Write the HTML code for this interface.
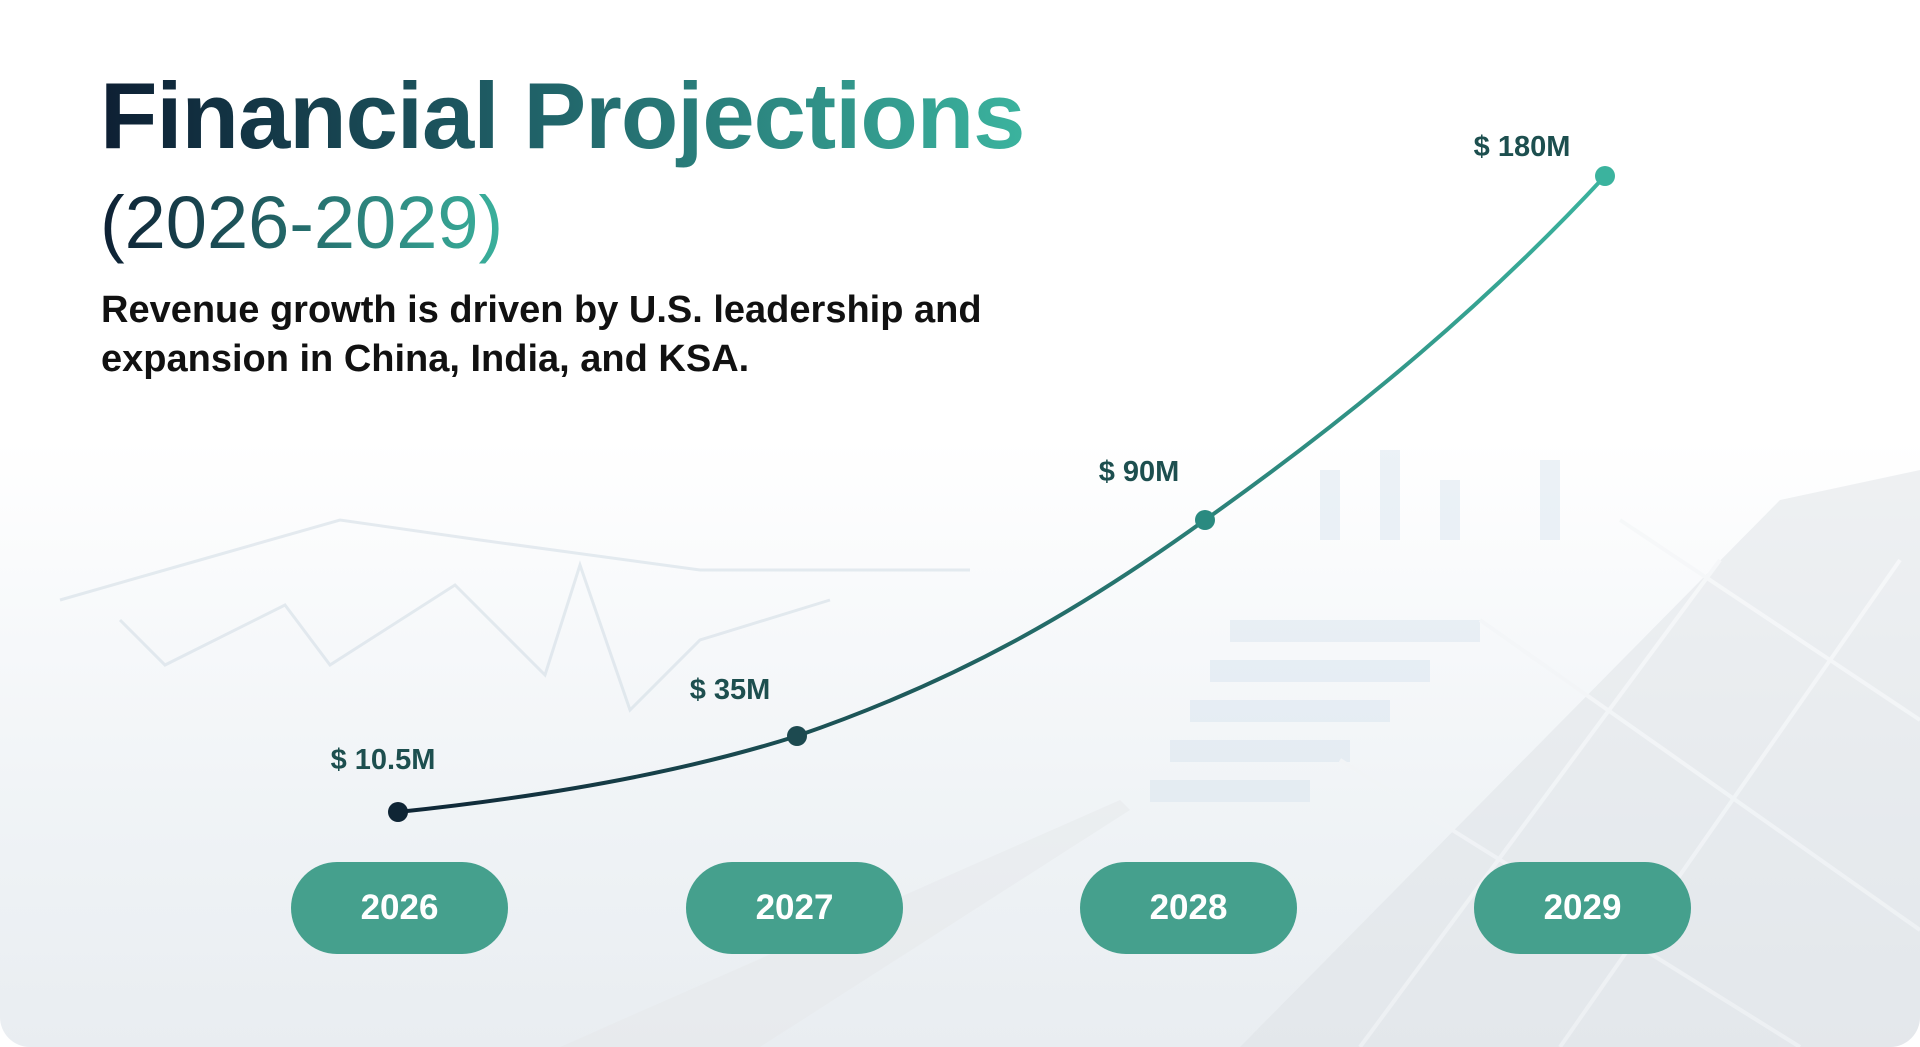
<!DOCTYPE html>
<html><head><meta charset="utf-8">
<style>
html,body{margin:0;padding:0}
body{width:1920px;height:1047px;overflow:hidden;background:#fff;font-family:"Liberation Sans",sans-serif;position:relative}
.bg{position:absolute;left:0;top:0;width:1920px;height:1047px;border-radius:0 0 30px 30px;overflow:hidden;
background:linear-gradient(180deg,#ffffff 0%,#ffffff 42%,#f6f8fa 62%,#eef2f5 82%,#e9edf1 100%)}
.t1{position:absolute;left:100px;top:62px;font-size:94px;font-weight:bold;letter-spacing:-1px;
background:linear-gradient(90deg,#0d1f33 0%,#1f5f66 45%,#3bb39e 100%);-webkit-background-clip:text;background-clip:text;color:transparent;white-space:nowrap}
.t2{position:absolute;left:100px;top:180px;font-size:74px;
background:linear-gradient(90deg,#0d1f33 0%,#2a7d78 60%,#3bb39e 100%);-webkit-background-clip:text;background-clip:text;color:transparent;width:410px;white-space:nowrap}
.sub{position:absolute;left:101px;top:286px;font-size:38px;line-height:49px;color:#111;font-weight:bold}
.lbl{position:absolute;font-size:29px;font-weight:bold;color:#1d4f4f;transform:translateX(-50%);white-space:nowrap}
.pill{position:absolute;top:862px;width:217px;height:92px;border-radius:46px;background:#45a08d;color:#fff;font-size:35px;font-weight:bold;display:flex;align-items:center;justify-content:center}
</style></head><body>
<div class="bg">
<svg width="1920" height="1047" style="position:absolute;left:0;top:0;opacity:.45">
<g stroke="#c9d6e0" stroke-width="3" fill="none">
<polyline points="120,620 165,665 285,605 330,665 455,585 545,675 580,565 630,710 700,640 830,600"/>
<polyline points="60,600 200,560 340,520 480,540 700,570 970,570"/>
</g>
<g fill="#d6e3ee"><rect x="1230" y="620" width="250" height="22"/><rect x="1210" y="660" width="220" height="22"/><rect x="1190" y="700" width="200" height="22"/><rect x="1170" y="740" width="180" height="22"/><rect x="1150" y="780" width="160" height="22"/>
<rect x="1320" y="470" width="20" height="70"/><rect x="1380" y="450" width="20" height="90"/><rect x="1440" y="480" width="20" height="60"/><rect x="1540" y="460" width="20" height="80"/></g>
<polygon points="1240,1047 1780,500 1920,470 1920,1047" fill="#dde1e5"/>
<g stroke="#f2f4f6" stroke-width="4"><line x1="1480" y1="620" x2="1920" y2="930"/><line x1="1340" y1="760" x2="1800" y2="1047"/><line x1="1620" y1="520" x2="1920" y2="720"/><line x1="1560" y1="1047" x2="1900" y2="560"/><line x1="1360" y1="1047" x2="1720" y2="560"/></g>
<polygon points="560,1047 1120,800 1130,810 760,1047" fill="#e6e8ea"/>
</svg>
<div class="t1">Financial Projections</div>
<div class="t2">(2026-2029)</div>
<div class="sub">Revenue growth is driven by U.S. leadership and<br>expansion in China, India, and KSA.</div>
<svg width="1920" height="1047" style="position:absolute;left:0;top:0">
<defs><linearGradient id="g" x1="398" y1="0" x2="1605" y2="0" gradientUnits="userSpaceOnUse">
<stop offset="0" stop-color="#0f2535"/><stop offset="0.45" stop-color="#1f5e5e"/><stop offset="1" stop-color="#3bb39e"/></linearGradient></defs>
<path d="M398,812 C560,795 690,770 797,736 C960,680 1080,610 1205,520 C1360,410 1490,300 1605,176" stroke="url(#g)" stroke-width="4" fill="none"/>
<circle cx="398" cy="812" r="10" fill="#0f2535"/>
<circle cx="797" cy="736" r="10" fill="#1d4a50"/>
<circle cx="1205" cy="520" r="10" fill="#2a8a80"/>
<circle cx="1605" cy="176" r="10" fill="#3bb39e"/>
</svg>
<div class="lbl" style="left:383px;top:744px">$ 10.5M</div>
<div class="lbl" style="left:730px;top:674px">$ 35M</div>
<div class="lbl" style="left:1139px;top:456px">$ 90M</div>
<div class="lbl" style="left:1522px;top:131px">$ 180M</div>
<div class="pill" style="left:291px">2026</div>
<div class="pill" style="left:686px">2027</div>
<div class="pill" style="left:1080px">2028</div>
<div class="pill" style="left:1474px">2029</div>
</div>
</body></html>
